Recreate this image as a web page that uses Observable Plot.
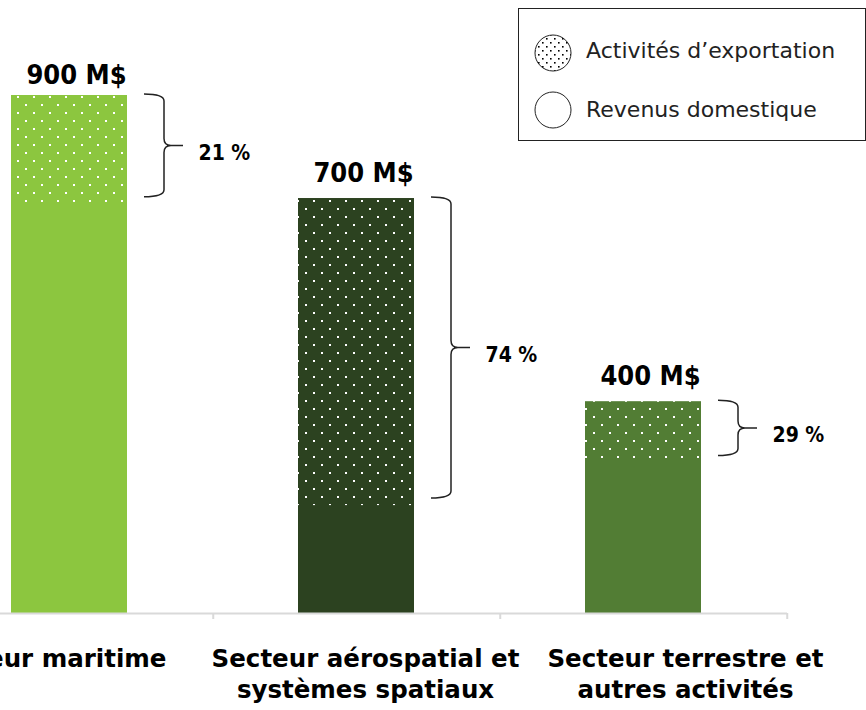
<!DOCTYPE html>
<html>
<head>
<meta charset="utf-8">
<script src="https://cdn.jsdelivr.net/npm/d3@7"></script>
<script src="https://cdn.jsdelivr.net/npm/@observablehq/plot@0.6"></script>
<style>
  html, body { margin: 0; padding: 0; background: #fff; }
  #wrap { position: relative; width: 866px; height: 710px; overflow: hidden; font-family: "DejaVu Sans", sans-serif; }
  #legend { position: absolute; left: 518px; top: 8px; width: 346px; height: 131px; border: 1px solid #222; background: #fff; box-sizing: content-box; }
  #legend .icon { position: absolute; left: 14px; }
  #legend .txt { position: absolute; left: 67px; font-size: 22px; line-height: 22px; color: #222; white-space: nowrap; }
</style>
</head>
<body>
<div id="wrap">
  <div id="chart"></div>
  <div id="legend"></div>
</div>
<script>
// ---- data ----
const categories = ["Secteur maritime", "Secteur aérospatial et systèmes spatiaux", "Secteur terrestre et autres activités"];
const tickLabels = ["Secteur maritime", "Secteur aérospatial et\nsystèmes spatiaux", "Secteur terrestre et\nautres activités"];
const totals = [900, 721, 368];           // bar heights as drawn
const totalLabels = ["900 M$", "700 M$", "400 M$"];
const exportShare = [0.21, 0.74, 0.29];
const shareLabels = ["21 %", "74 %", "29 %"];
const barColors = ["#8cc63f", "#2c4220", "#527d34"];
const legendLabels = ["Activités d’exportation", "Revenus domestique"];

// layout constants (pixel offsets of the category labels from their band centres)
const labelShift = [-23, 9, 42];

// ---- derived table ----
const rows = categories.map((c, i) => ({
  cat: c,
  tick: tickLabels[i],
  total: totals[i],
  domestic: totals[i] * (1 - exportShare[i]),
  label: totalLabels[i],
  share: shareLabels[i],
  mid: totals[i] * (1 - exportShare[i] / 2)
}));

const FONT = "'DejaVu Sans', sans-serif";
const FONT_COND = "'DejaVu Sans Condensed', 'DejaVu Sans', sans-serif";

function brackets(index, scales) {
  const x = scales.x, y = scales.y;
  const ns = "http://www.w3.org/2000/svg";
  const g = document.createElementNS(ns, "g");
  rows.forEach(d => {
    const xr = x(d.cat) + x.bandwidth();
    const x0 = xr + 17, xv = xr + 37, xt = xr + 56;
    const yt = y(d.total) - 1, yb = y(d.domestic) - 7, ym = (yt + yb) / 2;
    const r = 7;
    const p = `M${x0},${yt} Q${xv},${yt} ${xv},${yt + r} L${xv},${ym - r} Q${xv},${ym} ${xv + r},${ym} L${xt},${ym}` +
              ` M${xv + r},${ym} Q${xv},${ym} ${xv},${ym + r} L${xv},${yb - r} Q${xv},${yb} ${x0},${yb}`;
    const path = document.createElementNS(ns, "path");
    path.setAttribute("d", p);
    path.setAttribute("fill", "none");
    path.setAttribute("stroke", "#222");
    path.setAttribute("stroke-width", "1.5");
    g.appendChild(path);
  });
  return g;
}

const categoryLabelMarks = rows.map((r, i) =>
  Plot.text([r], { x: "cat", text: "tick", frameAnchor: "bottom", lineAnchor: "top", dy: 31, dx: labelShift[i],
    fontSize: 24.5, fontWeight: "bold", lineHeight: 1.27, fill: "#000" })
);

const svg = Plot.plot({
  width: 866,
  height: 710,
  marginLeft: 0,
  marginRight: 79,
  marginTop: 0,
  marginBottom: 97,
  style: { fontFamily: FONT, background: "transparent", overflow: "visible", color: "#000" },
  x: { domain: categories, range: [-75.75, 786.75], paddingInner: 0.5965, paddingOuter: 0.29826, axis: null },
  y: { domain: [0, 900], range: [613, 95], axis: null },
  color: { domain: categories, range: barColors },
  marks: [
    Plot.barY(rows, { x: "cat", y1: 0, y2: "total", fill: "cat" }),
    Plot.barY(rows, { x: "cat", y1: "domestic", y2: "total", fill: "url(#dots)" }),
    Plot.ruleY([0], { stroke: "#d9d9d9", strokeWidth: 2 }),
    Plot.ruleX(categories, { x: d => d, y1: 0, y2: 0, dx: 143.75, insetBottom: -6, stroke: "#d9d9d9", strokeWidth: 2 }),
    ...categoryLabelMarks,
    Plot.text(rows.slice(0, 1), { x: "cat", y: "total", text: "label", lineAnchor: "bottom", dy: -12, dx: 7, fontSize: 27, fontWeight: "bold", fontFamily: FONT_COND, fill: "#000" }),
    Plot.text(rows.slice(1), { x: "cat", y: "total", text: "label", lineAnchor: "bottom", dy: -17, dx: 7, fontSize: 27, fontWeight: "bold", fontFamily: FONT_COND, fill: "#000" }),
    brackets,
    Plot.text(rows, { x: "cat", y: "mid", text: "share", textAnchor: "start", dx: 58 + 71, dy: 3, fontSize: 21, fontWeight: "bold", fontFamily: FONT_COND, fill: "#000" })
  ]
});

// pattern definition (white dot grid)
const defs = d3.select(svg).insert("defs", ":first-child");
const pat = defs.append("pattern").attr("id", "dots").attr("patternUnits", "userSpaceOnUse")
  .attr("width", 16).attr("height", 16).attr("x", 1).attr("y", 0);
pat.append("rect").attr("x", 0).attr("y", 0).attr("width", 2).attr("height", 2).attr("fill", "#fff");
pat.append("rect").attr("x", 8).attr("y", 8).attr("width", 2).attr("height", 2).attr("fill", "#fff");

document.getElementById("chart").appendChild(svg);

// legend
const leg = document.getElementById("legend");
const ns = "http://www.w3.org/2000/svg";
const iconCenters = [53, 110];   // page y of circle centres
const textBaselines = [57, 116];
legendLabels.forEach((lab, i) => {
  const s = document.createElementNS(ns, "svg");
  s.setAttribute("width", 40); s.setAttribute("height", 40);
  s.setAttribute("class", "icon");
  s.style.top = (iconCenters[i] - 9 - 20) + "px";
  if (i === 0) {
    s.innerHTML = `<defs><pattern id="ldots" patternUnits="userSpaceOnUse" width="8" height="8"><rect x="1" y="1" width="1.6" height="1.6" fill="#000"/><rect x="5" y="5" width="1.6" height="1.6" fill="#000"/></pattern></defs>` +
      `<circle cx="20" cy="20" r="18" fill="url(#ldots)" stroke="#222" stroke-width="1"/>`;
  } else {
    s.innerHTML = `<circle cx="20" cy="20" r="18" fill="#fff" stroke="#222" stroke-width="1"/>`;
  }
  leg.appendChild(s);
  const t = document.createElement("div");
  t.className = "txt";
  t.textContent = lab;
  t.style.top = (textBaselines[i] - 9 - 17) + "px";
  leg.appendChild(t);
});
</script>
</body>
</html>
